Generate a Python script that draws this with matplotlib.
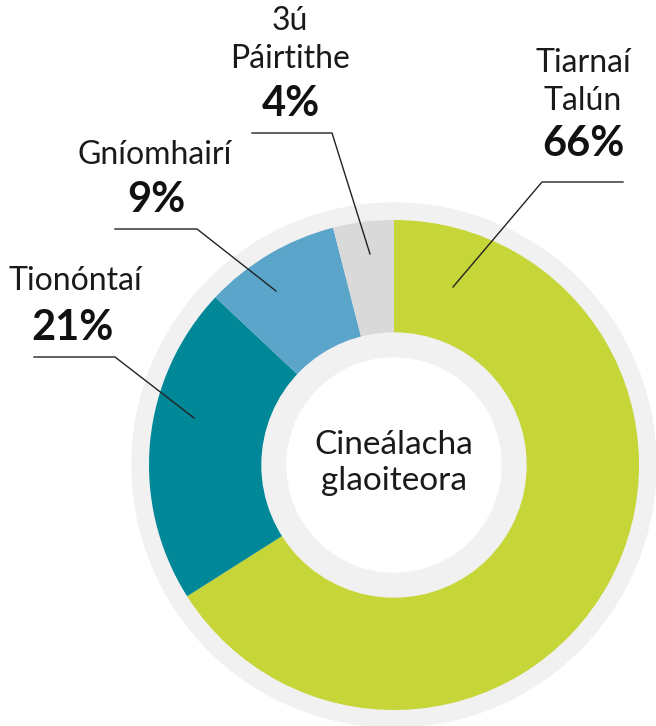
import matplotlib
matplotlib.use("Agg")
import matplotlib.pyplot as plt
from matplotlib.patches import Circle

# sonraí
categories = ["Tiarnaí\nTalún", "Tionóntaí", "Gníomhairí", "3ú\nPáirtithe"]
shares = [66, 21, 9, 4]
colors = ["#c6d538", "#008899", "#5ca5ca", "#d9d9d9"]
center_title = "Cineálacha\nglaoiteora"

W, H = 656, 726
cx, cy = 394, 465

fig = plt.figure(figsize=(W / 100, H / 100), dpi=100)
ax = fig.add_axes([0, 0, 1, 1])

# fáinne liath amuigh
ax.add_patch(Circle((cx, cy), 262, color="#f1f1f1", zorder=0))

ax.pie(shares, colors=colors, center=(cx, cy), radius=245,
       startangle=-90, counterclock=True,
       wedgeprops=dict(width=113, linewidth=0))

# fáinne liath istigh + lár bán
ax.add_patch(Circle((cx, cy), 132, color="#f1f1f1", zorder=3))
ax.add_patch(Circle((cx, cy), 107, color="white", zorder=4))

ax.set_xlim(0, W)
ax.set_ylim(H, 0)
ax.set_aspect("equal")
ax.axis("off")

fam = ["Lato", "DejaVu Sans"]

ax.text(cx, 463, center_title, ha="center", va="center", fontsize=24,
        family=fam, weight="normal", color="#1a1a1a", linespacing=1.22, zorder=5)

# lipéid: (ainm x, ainm y, % x, % y)
label_pos = [
    (583, 82, 583, 144),
    (75, 281, 73, 328),
    (155, 155, 156, 200),
    (290, 40, 291, 104),
]
leaders = [
    ([623, 542, 453], [182, 182, 287]),
    ([34, 115, 194], [357, 357, 418]),
    ([115, 197, 276], [229, 229, 291]),
    ([252, 332, 370], [133, 133, 254]),
]

for name, val, (nx, ny, px, py), (lx, ly) in zip(categories, shares, label_pos, leaders):
    ax.text(nx, ny, name, ha="center", va="center", fontsize=23,
            family=fam, weight="normal", color="#1a1a1a", linespacing=1.3)
    ax.text(px, py, f"{val}%", ha="center", va="center", fontsize=30,
            family=fam, weight="bold", color="#111111")
    ax.plot(lx, ly, color="#222222", linewidth=1, zorder=6)

fig.savefig("out.png", dpi=100)
